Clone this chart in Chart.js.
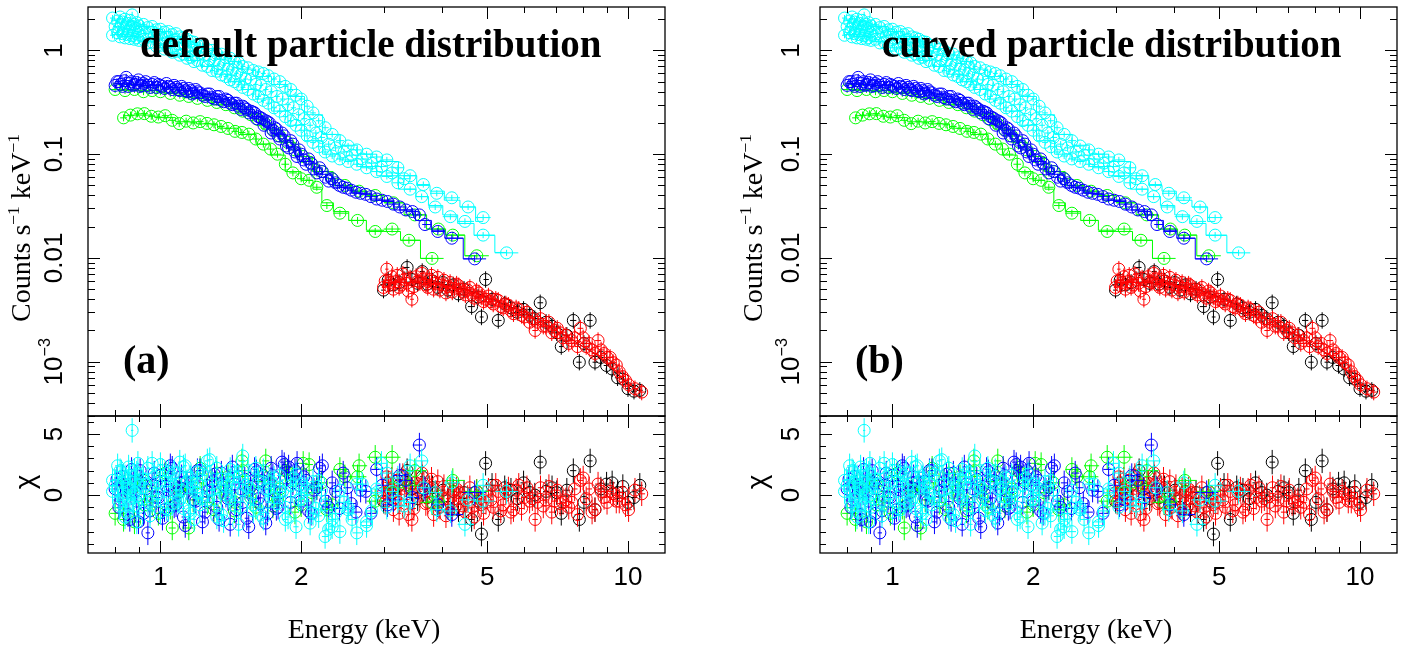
<!DOCTYPE html>
<html><head><meta charset="utf-8">
<script src="https://cdn.jsdelivr.net/npm/chart.js@4.4.0/dist/chart.umd.min.js"></script>
<style>
html,body{margin:0;padding:0;background:#fff;width:1425px;height:652px;overflow:hidden}
canvas{position:absolute;left:0;top:0}
</style></head><body>
<canvas id="tl" width="1425" height="652"></canvas>
<canvas id="bl" width="1425" height="652"></canvas>
<canvas id="tr" width="1425" height="652"></canvas>
<canvas id="br" width="1425" height="652"></canvas>
<script>
// ---------------- DATA ----------------
const cyan1E = [0.79,0.81,0.82,0.83,0.84,0.85,0.86,0.87,0.88,0.89,0.90,0.92,0.94,0.96,0.98,1.00,1.02,1.04,1.06,1.08,1.10,1.12,1.14,1.16,1.18,1.20,1.23,1.26,1.29,1.32,1.35,1.38,1.41,1.44,1.47,1.50,1.54,1.58,1.62,1.66,1.70,1.75,1.80,1.85,1.90,1.95,2.00,2.06,2.12,2.18,2.25,2.33,2.42,2.52,2.63,2.76,2.90,3.05,3.22,3.42,3.65,3.90,4.20,4.55,4.90];
const cyan1F = [2.05,1.92,2.10,1.88,2.00,1.82,1.95,2.20,1.78,1.85,1.72,
  1.78,1.66,1.70,1.58,1.60,1.50,1.52,1.42,1.45,1.35,1.32,1.28,1.22,1.20,1.12,
  1.10,1.02,1.00,0.93,0.92,0.85,0.84,0.78,0.76,0.70,
  0.68,0.64,0.62,0.60,0.57,
  0.53,0.50,0.45,0.42,0.37,0.34,
  0.29,0.25,0.21,0.18,0.155,0.135,0.12,0.11,0.10,0.094,
  0.088,0.074,0.062,0.051,0.042,0.038,0.031,0.0245];
const cyan1R = [1.2,0.5,2.0,-0.3,1.5,0.8,-0.8,5.3,0.2,1.8,-1.0,
  0.6,2.2,-0.5,1.0,2.5,0.3,-1.2,1.6,0.9,-0.4,2.3,1.1,-1.5,0.7,1.9,
  -0.2,2.8,0.4,-1.8,1.3,0.0,2.1,-0.9,1.5,3.2,
  0.6,-1.3,1.0,2.0,-0.6,
  1.4,0.3,-2.0,0.8,1.7,-0.3,
  0.5,-1.5,1.2,-0.8,-2.0,0.4,-1.0,0.9,-2.5,0.2,
  1.8,-0.5,2.4,0.6,-1.2,1.0,-0.4,0.8];
const cyan1Em = [0.79,0.86,0.94,1.02,1.10,1.18,1.26,1.35,1.44,1.54,1.66,1.80,1.95,2.12,2.33,2.52,2.76,3.05,3.42,3.65,3.90,4.20,4.55,4.90];
const cyan1M  = [2.00,1.88,1.70,1.52,1.36,1.18,1.04,0.90,0.78,0.66,0.56,0.47,0.36,0.24,0.155,0.122,0.10,0.085,0.062,0.050,0.044,0.036,0.031,0.0225];

const cyan2E = [0.79,0.81,0.82,0.83,0.84,0.85,0.86,0.87,0.88,0.89,0.90,0.92,0.94,0.96,0.98,1.00,1.02,1.04,1.06,1.08,1.10,1.12,1.14,1.16,1.18,1.20,1.23,1.26,1.29,1.32,1.35,1.38,1.41,1.44,1.47,1.50,1.54,1.58,1.62,1.66,1.70,1.75,1.80,1.85,1.90,1.95,2.00,2.06,2.12,2.18,2.25,2.33,2.42,2.52,2.63,2.76,2.90,3.05,3.22,3.42,3.62,3.87,4.17,4.48,4.90,5.50];
const cyan2F = [1.40,1.48,1.35,1.45,1.32,1.42,1.30,1.38,1.28,1.33,1.25,
  1.28,1.18,1.20,1.10,1.12,1.03,1.05,0.96,0.98,0.90,0.92,0.84,0.86,0.78,0.80,
  0.72,0.70,0.64,0.63,0.58,0.56,0.52,0.50,0.47,0.44,
  0.42,0.38,0.36,0.33,0.31,
  0.28,0.26,0.23,0.21,0.19,0.17,
  0.15,0.13,0.118,0.105,0.096,0.09,0.085,0.08,0.074,0.068,
  0.061,0.053,0.046,0.039,0.031,0.025,0.0225,0.0166,0.0112];
const cyan2R = [0.3,2.4,-0.9,1.0,-1.8,0.5,1.6,-0.2,2.0,-2.2,0.8,
  1.3,-0.6,2.6,0.1,-1.4,1.1,1.9,-0.7,0.4,2.7,-1.1,0.6,1.4,-2.0,0.2,
  1.7,-0.4,0.9,2.2,-1.6,0.7,-0.3,1.5,-2.4,0.4,
  2.0,-0.8,1.2,-1.9,0.5,
  -0.2,1.6,-1.0,0.3,-2.6,0.9,
  -0.5,1.1,-1.7,-3.4,-2.6,-3.0,-1.2,-3.1,-2.2,0.5,
  -1.0,1.4,-0.6,2.8,0.2,-1.3,-2.4,-0.5,0.3];
const cyan2Em = [0.79,0.86,0.94,1.02,1.10,1.18,1.26,1.35,1.44,1.54,1.66,1.80,1.95,2.12,2.33,2.52,2.76,3.05,3.42,3.62,3.87,4.17,4.48,4.90,5.50];
const cyan2M  = [1.42,1.36,1.22,1.06,0.93,0.80,0.70,0.59,0.50,0.42,0.34,0.26,0.19,0.135,0.10,0.088,0.076,0.062,0.046,0.039,0.032,0.026,0.0215,0.0165,0.0113];

const cyan3E = [0.80,0.815,0.825,0.835,0.845,0.855,0.865,0.875,0.885,0.895,0.91,0.93,0.95,0.97,0.99,1.01,1.03,1.05,1.07,1.09,1.11,1.13,1.15,1.17,1.19,1.215,1.245,1.275,1.305,1.335,1.365,1.395,1.425,1.455,1.485,1.52,1.56,1.60,1.64,1.68,1.725,1.775,1.825,1.875,1.925,1.975,2.03,2.09,2.15,2.21,2.29,2.37,2.47,2.57,2.70,2.83,2.97,3.13,3.32];
const cyan3F = [1.70,1.60,1.78,1.62,1.72,1.55,1.68,1.58,1.64,1.50,1.56,1.45,1.50,1.38,1.42,1.30,1.34,1.22,1.26,1.15,1.18,1.08,1.10,1.00,1.02,0.94,0.90,0.82,0.80,0.74,0.72,0.66,0.65,0.60,0.58,0.53,0.52,0.47,0.46,0.42,0.40,0.36,0.34,0.30,0.28,0.24,0.22,0.19,0.16,0.145,0.125,0.115,0.105,0.098,0.09,0.082,0.076,0.066,0.058];
const cyan3R = [0.8,-0.6,1.9,0.2,-1.4,2.3,0.5,-0.9,1.2,2.6,-0.3,0.9,-1.7,1.5,0.1,2.0,-1.1,0.7,1.8,-0.5,0.4,2.4,-1.3,1.0,0.2,-0.8,1.6,2.9,-0.4,0.6,-2.1,1.3,0.3,1.9,-1.0,0.8,-0.2,2.2,-1.6,0.5,1.1,-0.7,0.3,-1.8,1.4,-0.4,0.7,-2.3,-1.1,0.4,-2.8,-1.5,-0.6,-2.0,0.9,-1.3,2.6,0.3,-0.9];

const blueE = [0.80,0.815,0.83,0.845,0.86,0.875,0.89,0.905,0.92,
  0.94,0.96,0.98,1.00,1.02,1.04,1.06,1.08,1.10,1.12,1.14,1.16,1.18,1.20,
  1.23,1.26,1.29,1.32,1.35,1.38,1.41,1.44,1.47,1.50,1.53,1.56,1.59,1.62,1.65,1.68,1.71,1.74,1.77,1.80,
  1.84,1.88,1.92,1.96,2.00,
  2.05,2.10,2.16,2.22,2.29,2.37,2.46,2.56,2.68,2.82,2.98,3.15,3.35,3.58,3.68,3.92,4.20,4.70];
const blueF = [0.46,0.50,0.45,0.55,0.48,0.46,0.49,0.45,0.48,
  0.46,0.47,0.44,0.46,0.43,0.45,0.42,0.44,0.41,0.43,0.40,0.41,0.39,0.40,
  0.37,0.38,0.35,0.36,0.33,0.34,0.31,0.31,0.29,0.29,0.27,0.26,0.25,0.23,0.22,0.21,0.20,0.17,0.175,0.14,
  0.15,0.115,0.125,0.095,0.10,
  0.08,0.082,0.066,0.068,0.055,0.053,0.048,0.045,0.042,0.039,0.036,0.033,0.029,0.026,0.021,0.018,0.0155,0.0098];
const blueR = [0.5,-1.0,1.5,0.2,-2.0,1.0,-0.5,2.0,-1.5,
  -3.1,0.8,-0.2,1.6,-1.2,0.4,2.2,-0.8,1.0,-1.8,0.6,1.4,-0.4,2.0,
  -2.2,0.3,1.1,-1.0,1.8,0.0,-2.4,0.9,1.5,-0.6,-1.9,0.7,2.1,-0.3,1.2,-2.3,0.5,1.6,-1.1,0.2,
  2.5,2.3,1.0,2.6,-0.5,
  1.2,-1.5,0.6,2.4,-1.0,0.3,1.8,-0.7,0.4,-1.5,0.8,-0.4,1.2,4.1,0.5,-0.8,-1.6,0.2];
const blueEm = [0.80,0.875,0.96,1.06,1.16,1.26,1.35,1.44,1.53,1.62,1.71,1.80,1.92,2.05,2.22,2.46,2.68,2.98,3.35,3.68,3.92,4.20,4.70];
const blueM  = [0.48,0.47,0.46,0.44,0.41,0.38,0.34,0.31,0.27,0.23,0.19,0.155,0.115,0.085,0.064,0.048,0.042,0.036,0.029,0.023,0.0185,0.0155,0.0098];

const blue2E = [0.8075,0.8225,0.8375,0.8525,0.8675,0.8825,0.8975,0.9125,
  0.93,0.95,0.97,0.99,1.01,1.03,1.05,1.07,1.09,1.11,1.13,1.15,1.17,1.19,
  1.215,1.245,1.275,1.305,1.335,1.365,1.395,1.425,1.455,1.485,1.515,1.545,1.575,1.605,1.635,1.665,1.695,1.725,1.755,1.785,
  1.82,1.86,1.90,1.94,1.98,
  2.025,2.075,2.13,2.19,2.255,2.33,2.415,2.51,2.62,2.75,2.90,3.06,3.25,3.46];
const blue2F = [0.50,0.47,0.51,0.45,0.50,0.47,0.52,0.46,
  0.50,0.44,0.49,0.47,0.45,0.48,0.44,0.46,0.42,0.45,0.41,0.43,0.38,0.42,
  0.39,0.36,0.38,0.34,0.36,0.32,0.33,0.30,0.31,0.27,0.28,0.25,0.255,0.22,0.225,0.19,0.205,0.16,0.18,0.15,
  0.16,0.12,0.135,0.105,0.11,
  0.088,0.09,0.072,0.074,0.06,0.058,0.05,0.047,0.043,0.041,0.037,0.035,0.031,0.028];
const blue2R = [1.3,-0.4,0.9,-1.6,2.1,0.3,-2.2,1.0,0.5,-1.3,
  1.8,-0.2,-1.9,0.7,2.4,-0.9,0.2,1.5,-2.5,0.6,
  1.1,-0.5,2.0,-1.4,0.4,1.7,-2.0,0.8,-0.3,2.3,
  -1.2,0.5,1.3,-2.6,0.1,1.9,-0.7,0.9,-1.5,2.2,
  0.3,-1.0,2.7,1.4,-0.6,2.0,0.8,1.5,-1.3,0.4,
  2.2,-0.5,1.0,-1.1,0.6,-1.4,0.3,2.1,-0.8,1.6,-0.2];

const green1E = [0.80,0.84,0.88,0.92,0.96,1.00,1.05,1.10,1.15,1.20,1.26,1.32,1.38,1.44,1.50,1.56,1.62,1.68,1.74,1.80,1.87,1.94,2.02,2.11,2.21,2.33,2.48,2.66,2.88,3.15,3.50,3.93,4.22,4.75];
const green1F = [0.42,0.41,0.42,0.40,0.41,0.40,0.385,0.37,0.36,0.345,0.33,0.315,0.30,0.28,0.26,0.24,0.215,0.195,0.172,0.15,0.13,0.11,0.095,0.08,0.068,0.058,0.05,0.044,0.040,0.034,0.026,0.019,0.0166,0.0105];
const green1R = [-1.5,0.8,-2.2,1.2,-0.5,1.6,-1.0,0.3,-2.7,1.0,-0.6,1.8,0.4,-1.3,2.0,-0.2,1.1,2.8,-0.9,0.5,1.9,-1.4,2.6,0.2,1.0,-0.8,1.5,2.4,3.1,0.6,2.0,-0.5,1.2,0.3];
const green1Em = [0.80,0.92,1.05,1.20,1.38,1.56,1.74,1.87,2.02,2.21,2.48,2.66,2.88,3.15,3.50,3.93,4.22,4.75];
const green1M  = [0.42,0.41,0.39,0.35,0.30,0.245,0.175,0.13,0.095,0.068,0.05,0.044,0.040,0.034,0.026,0.019,0.0166,0.0105];

const green2E = [0.834,0.863,0.893,0.924,0.956,0.99,1.024,1.06,1.097,1.135,1.175,1.216,1.258,1.302,1.348,1.395,1.444,1.494,1.546,1.60,1.66,1.72,1.78,1.85,1.92,2.00,2.08,2.16,2.27,2.42,2.64,2.88,3.13,3.40,3.81];
const green2F = [0.224,0.238,0.245,0.246,0.232,0.228,0.235,0.212,0.197,0.208,0.200,0.206,0.198,0.192,0.185,0.177,0.166,0.162,0.156,0.140,0.125,0.112,0.100,0.080,0.066,0.058,0.056,0.048,0.032,0.027,0.023,0.018,0.019,0.0148,0.0099];
const green2R = [-2.0,0.5,1.2,-0.8,0.3,-1.5,1.8,-2.7,0.6,1.0,-0.4,2.2,0.8,-1.2,0.2,1.5,-0.6,2.8,0.4,-1.0,1.6,0.9,-0.3,2.0,1.2,-0.8,2.5,0.6,-1.2,2.1,1.5,-0.5,3.1,0.8,-0.6];
const green2Em = [0.834,0.924,1.024,1.135,1.258,1.395,1.546,1.66,1.78,1.92,2.08,2.16,2.27,2.42,2.64,2.88,3.13,3.40,3.81];
const green2M  = [0.235,0.238,0.225,0.205,0.196,0.178,0.155,0.125,0.098,0.068,0.056,0.046,0.034,0.028,0.023,0.0185,0.018,0.0148,0.0099];

const blackE = [3.00,3.07,3.15,3.24,3.37,3.45,3.55,3.63,3.72,3.82,3.92,4.02,4.12,4.23,4.34,4.46,4.63,4.78,4.86,4.96,5.12,5.28,5.45,5.62,5.80,5.98,6.17,6.32,6.49,6.68,6.88,7.04,7.20,7.40,7.64,7.87,8.05,8.30,8.50,8.75,9.00,9.25,9.50,9.75,10.0,10.3,10.6];
const blackF = [0.0049,0.0061,0.0055,0.0058,0.0081,0.0062,0.0057,0.0074,0.0056,0.0060,0.0052,0.0058,0.0049,0.0055,0.0045,0.0050,0.0034,0.0042,0.0027,0.0062,0.0040,0.0025,0.0036,0.0033,0.0030,0.0032,0.0028,0.0026,0.0037,0.0024,0.0022,0.0019,0.0014,0.0018,0.0025,0.00099,0.0015,0.0025,0.00099,0.0011,0.00092,0.00085,0.00070,0.00068,0.00055,0.00052,0.00053];
const blackR = [-0.5,1.0,0.2,0.8,2.0,0.5,-0.3,1.5,-0.2,0.6,-0.8,0.4,-1.0,0.3,-1.2,0.2,-2.0,-0.5,-3.2,2.6,0.8,-2.0,0.6,0.4,-0.3,1.0,0.2,0.0,2.7,0.3,0.6,0.2,-1.5,0.4,2.0,-2.0,-0.6,2.8,-1.2,0.5,0.9,1.0,0.2,0.7,-0.6,-0.2,0.8];
const blackEm = [3.0,3.5,4.0,4.5,5.0,5.5,6.0,6.5,7.0,7.5,8.0,8.5,9.0,9.5,10.0,10.6];
const blackM  = [0.0057,0.0059,0.0056,0.0050,0.0042,0.0035,0.0030,0.0025,0.0020,0.0017,0.0014,0.0012,0.00095,0.00075,0.00060,0.00052];

const redE = [3.00,3.05,3.10,3.15,3.21,3.27,3.33,3.39,3.45,3.52,3.59,3.66,3.73,3.80,3.88,3.96,4.04,4.12,4.21,4.30,4.39,4.49,4.59,4.69,4.80,4.91,5.03,5.15,5.28,5.41,5.55,5.69,5.84,6.00,6.16,6.33,6.50,6.68,6.87,7.06,7.26,7.47,7.69,7.91,8.14,8.38,8.63,8.89,9.16,9.44,9.73,10.03,10.35,10.7];
const redF = [0.0052,0.0078,0.0058,0.0050,0.0068,0.0055,0.0062,0.0048,0.0040,0.0066,0.0058,0.0063,0.0052,0.0068,0.0057,0.0049,0.0061,0.0053,0.0047,0.0056,0.0050,0.0044,0.0052,0.0041,0.0046,0.0038,0.0043,0.0036,0.0039,0.0033,0.0035,0.0029,0.0032,0.0027,0.0024,0.0020,0.0026,0.0022,0.0019,0.0021,0.0017,0.0015,0.0017,0.0021,0.0014,0.0013,0.0016,0.0012,0.0011,0.00093,0.00072,0.00060,0.00055,0.00051];
const redR = [0.2,1.5,0.4,-1.2,1.2,-0.4,0.8,-1.6,-2.0,1.0,0.3,0.9,-0.6,1.3,0.2,-1.0,0.7,-0.3,-1.2,0.5,-0.2,-1.4,0.6,-1.8,-0.3,-1.5,0.4,-1.0,0.3,-0.8,0.5,-1.2,0.8,-0.2,-0.5,-2.0,0.6,-0.4,-1.4,0.4,-0.6,-1.0,0.5,1.2,-0.3,-1.4,0.9,-0.2,0.3,-0.5,0.2,-1.2,0.4,0.1];
const redEm = [3.0,3.5,4.0,4.5,5.0,5.5,6.0,6.5,7.0,7.5,8.0,8.5,9.0,9.5,10.0,10.6];
const redM  = [0.0058,0.0058,0.0055,0.0049,0.0041,0.0034,0.0029,0.0024,0.0020,0.0017,0.0014,0.0012,0.0010,0.00078,0.00062,0.00052];

const red2E = [3.025,3.075,3.125,3.18,3.24,3.30,3.36,3.42,3.485,3.555,3.625,3.695,3.765,3.84,3.92,4.00,4.08,4.165,4.255,4.345,4.44,4.54,4.64,4.745,4.855,4.97,5.09,5.215,5.345,5.48,5.62,5.765,5.92,6.08,6.245,6.415,6.59,6.775,6.965,7.16,7.365,7.58,7.80,8.02,8.26,8.50,8.76,9.02,9.30,9.58,9.88];
const red2F = [0.0060,0.0054,0.0066,0.0059,0.0052,0.0070,0.0057,0.0064,0.0053,0.0060,0.0071,0.0055,0.0062,0.0050,0.0065,0.0055,0.0046,0.0058,0.0051,0.0054,0.0047,0.0049,0.0044,0.0048,0.0042,0.0040,0.0038,0.0040,0.0034,0.0036,0.0031,0.0033,0.0028,0.0030,0.0026,0.0024,0.0022,0.0024,0.0020,0.0019,0.0018,0.0016,0.0014,0.0017,0.0015,0.0012,0.0013,0.0011,0.00098,0.00080,0.00066];
const red2R = [-0.6,0.9,1.3,-0.2,-1.5,1.6,0.1,0.8,-1.1,0.4,1.8,-0.7,0.6,-1.6,1.1,-0.3,-1.7,0.5,-0.5,0.2,-0.9,-0.2,-1.0,0.3,-0.8,-0.6,-0.4,0.8,-1.3,0.2,-1.4,0.4,-1.1,0.6,-0.3,-0.6,-0.9,0.7,-0.5,-0.7,-0.4,-0.6,-1.6,1.4,0.5,-1.2,0.3,-0.6,0.1,-0.5,-0.8];

// axis ticks and labels
const xTickVals = [1, 2, 5, 10];
const xTickLabels = ['1', '2', '5', '10'];
const xMinorVals = [0.8, 0.9, 3, 4, 6, 7, 8, 9];
const topYTickVals = [1, 0.1, 0.01, 0.001];
const topYTickLabels = [[['1']], [['0.1']], [['0.01']], [['10'], ['\u22123', true]]];
const resYTickVals = [5, 0];
const resYTickLabels = ['5', '0'];
const resYMinorVals = [-4, -3, -2, -1, 1, 2, 3, 4, 6];
const panelTitles = ['default particle distribution', 'curved particle distribution'];
const panelTags = ['(a)', '(b)'];

// ---------------- drawing ----------------
const SANS = '"Liberation Sans", Arial, Helvetica, sans-serif';
const SERIF = '"Liberation Serif", "Times New Roman", serif';

const SERIES = [
  {color:'#00ffff', E:cyan1E, F:cyan1F, R:cyan1R, Em:cyan1Em, M:cyan1M, frac:0.07, step:true},
  {color:'#00ffff', E:cyan3E, F:cyan3F, R:cyan3R, Em:null, M:null, frac:0.07, step:true},
  {color:'#00ffff', E:cyan2E, F:cyan2F, R:cyan2R, Em:cyan2Em, M:cyan2M, frac:0.07, step:true},
  {color:'#0000ff', E:blueE, F:blueF, R:blueR, Em:blueEm, M:blueM, frac:0.08, step:true},
  {color:'#0000ff', E:blue2E, F:blue2F, R:blue2R, Em:null, M:null, frac:0.08, step:true},
  {color:'#00ff00', E:green1E, F:green1F, R:green1R, Em:green1Em, M:green1M, frac:0.08, step:true},
  {color:'#00ff00', E:green2E, F:green2F, R:green2R, Em:green2Em, M:green2M, frac:0.08, step:true},
  {color:'#ff0000', E:redE, F:redF, R:redR, Em:redEm, M:redM, frac:0.2, step:false},
  {color:'#ff0000', E:red2E, F:red2F, R:red2R, Em:null, M:null, frac:0.2, step:false},
  {color:'#000000', E:blackE, F:blackF, R:blackR, Em:blackEm, M:blackM, frac:0.2, step:false}
];

function drawRich(ctx, parts, size, font, align) {
  let total = 0;
  const ws = parts.map(p => { ctx.font = (p[1] ? size * 0.62 : size) + 'px ' + font; const w = ctx.measureText(p[0]).width; total += w; return w; });
  let x = align === 'center' ? -total / 2 : 0;
  parts.forEach((p, i) => {
    ctx.font = (p[1] ? size * 0.62 : size) + 'px ' + font;
    ctx.fillText(p[0], x, p[1] ? -size * 0.38 : 0);
    x += ws[i];
  });
}

const errPlugin = {
  id: 'errbars',
  afterDatasetDraw(chart, args) {
    const ds = chart.data.datasets[args.index];
    if (!ds.errKind) return;
    const xs = chart.scales.x, ys = chart.scales.y, ctx = chart.ctx, a = chart.chartArea;
    const E = ds.energies;
    ctx.save();
    ctx.beginPath(); ctx.rect(a.left, a.top, a.right - a.left, a.bottom - a.top); ctx.clip();
    ctx.strokeStyle = ds.borderColor; ctx.lineWidth = 1;
    ctx.beginPath();
    for (let i = 0; i < ds.data.length; i++) {
      const p = ds.data[i];
      const lo = i > 0 ? Math.sqrt(E[i - 1] * E[i]) : E[i] * E[i] / Math.sqrt(E[i] * E[i + 1]);
      const hi = i < E.length - 1 ? Math.sqrt(E[i] * E[i + 1]) : E[i] * E[i] / Math.sqrt(E[i - 1] * E[i]);
      const xc = xs.getPixelForValue(p.x), yc = ys.getPixelForValue(p.y);
      let y0, y1;
      if (ds.errKind === 'frac') { y0 = ys.getPixelForValue(p.y * (1 + ds.frac)); y1 = ys.getPixelForValue(p.y / (1 + ds.frac)); }
      else { y0 = ys.getPixelForValue(p.y + 1); y1 = ys.getPixelForValue(p.y - 1); }
      ctx.moveTo(xs.getPixelForValue(lo), yc); ctx.lineTo(xs.getPixelForValue(hi), yc);
      ctx.moveTo(xc, y0); ctx.lineTo(xc, y1);
    }
    ctx.stroke();
    ctx.restore();
  }
};

const framePlugin = {
  id: 'frame',
  afterDraw(chart, args, o) {
    const ctx = chart.ctx, a = chart.chartArea, xs = chart.scales.x, ys = chart.scales.y;
    ctx.save();
    ctx.strokeStyle = '#000'; ctx.fillStyle = '#000'; ctx.lineWidth = 1;
    ctx.beginPath();
    const seg = (x0, y0, x1, y1) => { ctx.moveTo(x0, y0); ctx.lineTo(x1, y1); };
    const xt = (v, L) => { const p = Math.round(xs.getPixelForValue(v)) + 0.5; seg(p, a.top, p, a.top + L); seg(p, a.bottom, p, a.bottom - L); };
    const yt = (v, L) => { const p = Math.round(ys.getPixelForValue(v)) + 0.5; seg(a.left, p, a.left + L, p); seg(a.right, p, a.right - L, p); };
    xTickVals.forEach(v => xt(v, 12));
    xMinorVals.forEach(v => xt(v, 6));
    if (o.kind === 'top') {
      topYTickVals.forEach(v => yt(v, 12));
      for (let n = -4; n <= 0; n++) for (let k = 2; k <= 9; k++) {
        const v = k * Math.pow(10, n);
        if (v > ys.min && v < ys.max) yt(v, 7);
      }
    } else {
      resYTickVals.forEach(v => yt(v, 12));
      resYMinorVals.forEach(v => yt(v, 6));
    }
    ctx.stroke();
    ctx.lineWidth = 1.3;
    ctx.strokeRect(a.left, a.top, a.right - a.left, a.bottom - a.top);

    const labX = a.left + o.labDX;
    if (o.kind === 'top') {
      topYTickVals.forEach((v, i) => {
        ctx.save();
        ctx.translate(labX, ys.getPixelForValue(v));
        ctx.rotate(-Math.PI / 2);
        ctx.textBaseline = 'middle'; ctx.textAlign = 'left';
        drawRich(ctx, topYTickLabels[i], 26, SANS, 'center');
        ctx.restore();
      });
      ctx.save();
      ctx.translate(a.left - 58, 228);
      ctx.rotate(-Math.PI / 2);
      ctx.textBaseline = 'alphabetic'; ctx.textAlign = 'left';
      drawRich(ctx, [['Counts s'], ['\u22121', true], [' keV'], ['\u22121', true]], 28, SERIF, 'center');
      ctx.restore();
      ctx.textBaseline = 'alphabetic'; ctx.textAlign = 'left';
      ctx.font = 'bold 39px ' + SERIF;
      ctx.fillText(o.title, a.left + o.titleDX, 57);
      ctx.font = 'bold 40px ' + SERIF;
      ctx.fillText(o.tag, a.left + 35, 373);
    } else {
      resYTickVals.forEach((v, i) => {
        ctx.save();
        ctx.translate(labX, ys.getPixelForValue(v));
        ctx.rotate(-Math.PI / 2);
        ctx.textBaseline = 'middle'; ctx.textAlign = 'center';
        ctx.font = '26px ' + SANS;
        ctx.fillText(resYTickLabels[i], 0, 0);
        ctx.restore();
      });
      ctx.save();
      ctx.translate(a.left - 62, 482);
      ctx.rotate(-Math.PI / 2);
      ctx.textBaseline = 'middle'; ctx.textAlign = 'center';
      ctx.font = '28px ' + SANS;
      ctx.fillText('\u03c7', 0, 0);
      ctx.restore();
      ctx.textAlign = 'center'; ctx.textBaseline = 'alphabetic';
      ctx.font = '26px ' + SANS;
      xTickVals.forEach((v, i) => ctx.fillText(xTickLabels[i], xs.getPixelForValue(v), 585));
      ctx.font = '28px ' + SERIF;
      ctx.fillText('Energy (keV)', a.left + 276, 638);
    }
    ctx.restore();
  }
};

function buildDatasets(kind) {
  const out = [];
  SERIES.forEach(s => {
    out.push({
      type: 'scatter',
      data: s.E.map((e, i) => ({x: e, y: kind === 'top' ? s.F[i] : s.R[i]})),
      energies: s.E,
      errKind: kind === 'top' ? 'frac' : 'sig',
      frac: s.frac,
      borderColor: s.color,
      backgroundColor: 'rgba(0,0,0,0)',
      pointBackgroundColor: 'rgba(0,0,0,0)',
      pointBorderColor: s.color,
      pointBorderWidth: 1,
      pointRadius: 6,
      pointStyle: 'circle',
      showLine: false
    });
    if (kind === 'top' && s.Em) {
      out.push({
        type: 'line',
        data: s.Em.map((e, i) => ({x: e, y: s.M[i]})),
        borderColor: s.color,
        borderWidth: 1,
        pointRadius: 0,
        showLine: true,
        fill: false,
        stepped: s.step ? 'middle' : false,
        tension: 0
      });
    }
  });
  return out;
}

function makeChart(id, kind, left, panel) {
  const top = kind === 'top' ? 4 : 416;
  const bottom = kind === 'top' ? 416 : 553;
  return new Chart(document.getElementById(id), {
    type: 'scatter',
    data: {datasets: buildDatasets(kind)},
    options: {
      responsive: false, animation: false, devicePixelRatio: 1, events: [],
      layout: {padding: {left: left, top: top, right: 1425 - (left + 577), bottom: 652 - bottom}},
      plugins: {
        legend: {display: false}, tooltip: {enabled: false},
        frame: {kind: kind, title: panelTitles[panel], tag: panelTags[panel], titleDX: panel === 0 ? 52 : 62, labDX: panel === 0 ? -33 : -28}
      },
      scales: {
        x: {type: 'logarithmic', min: 0.7, max: 12, display: false},
        y: kind === 'top' ? {type: 'logarithmic', min: 3.4e-4, max: 2.62, display: false}
                          : {type: 'linear', min: -4.75, max: 6.48, display: false}
      }
    },
    plugins: [errPlugin, framePlugin]
  });
}

makeChart('tl', 'top', 88, 0);
makeChart('bl', 'res', 88, 0);
makeChart('tr', 'top', 820, 1);
makeChart('br', 'res', 820, 1);
</script>
</body></html>
